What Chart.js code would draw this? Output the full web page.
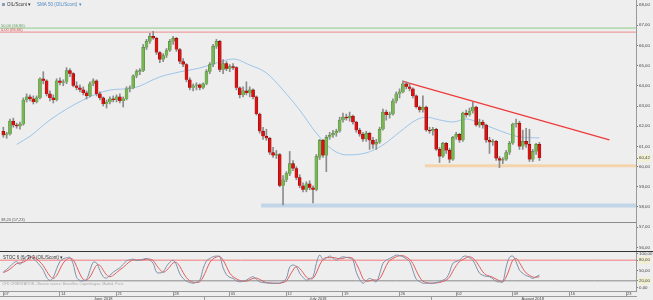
<!DOCTYPE html>
<html>
<head>
<meta charset="utf-8">
<script src="https://cdn.jsdelivr.net/npm/chart.js@4.4.1/dist/chart.umd.min.js"></script>
<style>
html, body { margin: 0; padding: 0; background: #eeeeee; width: 653px; height: 300px; overflow: hidden; }
#mainBox { position: absolute; left: 0; top: 0; }
#sep { position: absolute; left: 0; top: 251px; width: 653px; height: 1px; background: #333; }
#stochBox { position: absolute; left: 0; top: 252px; }
</style>
</head>
<body>
<div id="mainBox"><canvas id="mainChart" width="653" height="251"></canvas></div>
<div id="sep"></div>
<div id="stochBox"><canvas id="stochChart" width="653" height="48"></canvas></div>
<script>
// candles (one per bar, left to right)
const opens = [
  61.75, 61.55, 61.62, 62.25, 62.05, 62.00, 62.10, 63.30, 63.45, 63.35,
  63.20, 63.40, 64.35, 64.25, 63.60, 63.40, 63.30, 64.25, 64.15, 64.20,
  64.75, 64.60, 64.00, 63.90, 63.80, 63.65, 63.50, 64.10, 64.25, 63.60,
  63.40, 63.10, 63.20, 63.35, 63.30, 63.45, 63.25, 63.35, 63.85, 63.90,
  64.50, 64.70, 64.75, 65.90, 66.20, 66.45, 66.35, 65.65, 65.30, 65.50,
  65.75, 66.20, 66.35, 65.80, 65.20, 65.05, 64.30, 63.90, 64.00, 64.05,
  63.90, 64.10, 64.70, 65.05, 65.95, 66.20, 64.80, 65.10, 64.85, 64.95,
  64.90, 63.90, 63.55, 63.75, 63.65, 63.80, 63.45, 62.60, 61.75, 61.50,
  61.40, 60.70, 60.55, 60.60, 59.05, 59.35, 59.65, 60.15, 59.90, 59.45,
  59.05, 58.85, 59.15, 58.95, 58.85, 60.45, 61.30, 60.55, 61.45, 61.55,
  61.65, 61.75, 62.30, 62.45, 62.40, 62.50, 62.20, 61.80, 61.60, 61.35,
  61.65, 61.30, 61.10, 61.20, 61.85, 62.70, 62.55, 62.60, 63.25, 63.60,
  63.70, 64.10, 63.95, 63.85, 63.50, 62.95, 62.80, 62.95, 61.80, 61.75,
  61.85, 60.85, 60.50, 61.15, 60.80, 60.35, 61.45, 61.60, 61.30, 62.65,
  62.55, 62.75, 62.95, 62.05, 62.20, 62.05, 61.30, 61.20, 61.25, 60.40,
  60.30, 60.35, 60.70, 61.15, 62.10, 62.15, 61.00, 61.25, 61.10, 60.35,
  60.75, 61.10
]
const highs = [
  61.95, 61.70, 62.35, 62.40, 62.15, 62.20, 63.40, 63.60, 63.55, 63.50,
  63.50, 64.40, 64.70, 64.30, 63.75, 63.55, 64.35, 64.40, 64.30, 64.90,
  64.85, 64.65, 64.20, 64.05, 63.95, 63.75, 64.20, 64.35, 64.30, 63.70,
  63.45, 63.30, 63.45, 63.50, 63.55, 63.60, 63.45, 63.95, 64.00, 64.55,
  64.80, 64.85, 66.05, 66.30, 66.60, 66.70, 66.40, 65.70, 65.60, 65.85,
  66.30, 66.45, 66.40, 65.85, 65.35, 65.10, 64.40, 64.10, 64.15, 64.10,
  64.15, 64.80, 65.15, 66.05, 66.30, 66.25, 65.30, 65.20, 65.05, 65.10,
  64.95, 63.95, 63.95, 64.20, 63.95, 63.85, 63.50, 62.65, 61.95, 61.85,
  61.45, 60.95, 60.80, 60.65, 59.55, 59.75, 60.75, 60.30, 60.00, 59.60,
  59.20, 59.25, 59.30, 59.05, 60.60, 61.35, 61.35, 61.55, 61.70, 61.80,
  61.85, 62.45, 62.65, 62.60, 62.70, 62.55, 62.25, 61.90, 61.70, 61.75,
  61.70, 61.45, 61.35, 61.95, 62.85, 62.80, 62.70, 63.35, 63.70, 63.85,
  64.25, 64.20, 64.10, 63.90, 63.55, 63.00, 63.50, 63.00, 61.95, 61.95,
  61.90, 60.95, 61.20, 61.20, 60.90, 61.50, 61.70, 61.65, 62.70, 62.80,
  62.90, 63.20, 63.00, 62.35, 62.30, 62.10, 61.45, 61.35, 61.30, 60.50,
  60.45, 60.80, 61.25, 62.15, 62.35, 62.25, 61.80, 61.90, 61.85, 60.85,
  61.15, 61.20
]
const lows = [
  61.45, 61.40, 61.55, 61.95, 61.90, 61.85, 62.05, 63.20, 63.25, 63.10,
  63.15, 63.35, 64.10, 63.50, 63.25, 63.15, 63.25, 64.05, 64.00, 64.10,
  64.45, 63.95, 63.80, 63.70, 63.55, 63.35, 63.45, 64.00, 63.50, 63.30,
  63.00, 62.90, 63.10, 63.20, 63.20, 63.15, 62.95, 63.30, 63.70, 63.85,
  64.40, 64.55, 64.70, 65.80, 66.10, 66.30, 65.55, 65.15, 65.20, 65.40,
  65.70, 66.05, 65.70, 65.10, 64.95, 64.20, 63.80, 63.75, 63.80, 63.80,
  63.85, 64.05, 64.60, 64.95, 65.85, 64.70, 64.60, 64.75, 64.70, 64.80,
  63.80, 63.40, 63.45, 63.55, 63.45, 63.35, 62.55, 61.65, 61.35, 61.30,
  60.60, 60.45, 60.40, 59.00, 58.10, 59.25, 59.55, 59.80, 59.35, 58.95,
  58.75, 58.75, 58.85, 58.20, 58.80, 60.35, 60.45, 59.75, 61.35, 61.45,
  61.50, 61.70, 62.20, 62.30, 62.25, 62.10, 61.70, 61.50, 61.25, 61.25,
  60.85, 60.90, 60.85, 61.15, 61.80, 62.30, 62.40, 62.55, 63.15, 63.40,
  63.65, 63.85, 63.75, 63.40, 62.90, 62.70, 62.70, 61.75, 61.65, 61.55,
  60.80, 60.20, 60.45, 60.65, 60.20, 60.30, 61.35, 61.20, 61.25, 62.45,
  62.50, 62.65, 62.00, 61.95, 61.90, 61.20, 60.65, 61.05, 60.30, 59.95,
  60.15, 60.30, 60.60, 61.10, 61.95, 60.85, 60.85, 60.95, 60.25, 60.25,
  60.60, 60.30
]
const closes = [
  61.55, 61.62, 62.25, 62.05, 62.00, 62.10, 63.30, 63.45, 63.35, 63.20,
  63.40, 64.35, 64.25, 63.60, 63.40, 63.30, 64.25, 64.15, 64.20, 64.75,
  64.60, 64.00, 63.90, 63.80, 63.65, 63.50, 64.10, 64.25, 63.60, 63.40,
  63.10, 63.20, 63.35, 63.30, 63.45, 63.25, 63.35, 63.85, 63.90, 64.50,
  64.70, 64.75, 65.90, 66.20, 66.45, 66.35, 65.65, 65.30, 65.50, 65.75,
  66.20, 66.35, 65.80, 65.20, 65.05, 64.30, 63.90, 64.00, 64.05, 63.90,
  64.10, 64.70, 65.05, 65.95, 66.20, 64.80, 65.10, 64.85, 64.95, 64.90,
  63.90, 63.55, 63.75, 63.65, 63.80, 63.45, 62.60, 61.75, 61.50, 61.40,
  60.70, 60.55, 60.60, 59.05, 59.35, 59.65, 60.15, 59.90, 59.45, 59.05,
  58.85, 59.15, 58.95, 58.85, 60.50, 61.30, 60.55, 61.45, 61.55, 61.65,
  61.75, 62.30, 62.45, 62.40, 62.50, 62.20, 61.80, 61.60, 61.35, 61.65,
  61.30, 61.10, 61.20, 61.85, 62.70, 62.55, 62.60, 63.25, 63.60, 63.70,
  64.10, 63.95, 63.85, 63.50, 62.95, 62.80, 62.95, 61.80, 61.75, 61.85,
  60.85, 60.50, 61.15, 60.80, 60.35, 61.45, 61.60, 61.30, 62.65, 62.55,
  62.75, 62.95, 62.05, 62.20, 62.05, 61.30, 61.20, 61.25, 60.40, 60.30,
  60.35, 60.70, 61.15, 62.10, 62.15, 61.00, 61.25, 61.10, 60.35, 60.75,
  61.10, 60.42
]

// SMA 50 read at a few bars, the library draws the curve through them
const smaBars = [4, 8, 14, 24, 32, 39, 47, 53, 59, 64, 69, 74, 79, 84, 89, 94, 99, 103, 109, 114, 119, 124, 127, 131, 135, 139, 143, 147, 151, 155, 161]
const smaValues = [61.10, 61.50, 62.31, 63.30, 63.79, 63.89, 64.44, 64.69, 64.88, 65.13, 65.33, 65.03, 64.64, 63.79, 62.80, 61.66, 60.82, 60.58, 60.68, 61.07, 61.71, 62.31, 62.45, 62.31, 62.21, 62.36, 62.16, 61.91, 61.66, 61.47, 61.42]

// stochastic %K and %D
const stochK = [
  46, 53, 62, 71, 76, 68, 80, 92, 92, 84,
  76, 64, 51, 30, 21, 30, 55, 76, 84, 87,
  88, 68, 30, 21, 20, 24, 50, 74, 72, 50,
  32, 28, 36, 45, 52, 58, 68, 78, 81, 83,
  79, 80, 83, 85, 80, 71, 45, 43, 46, 62,
  74, 80, 66, 40, 27, 19, 15, 13, 16, 22,
  55, 78, 85, 90, 92, 90, 58, 38, 30, 27,
  20, 17, 19, 22, 28, 32, 24, 17, 15, 14,
  13, 13, 13, 13, 18, 27, 60, 66, 61, 42,
  30, 22, 26, 32, 70, 95, 82, 86, 92, 86,
  80, 86, 90, 88, 86, 80, 45, 24, 13, 20,
  27, 22, 17, 40, 71, 80, 85, 90, 95, 93,
  90, 84, 76, 50, 25, 18, 13, 13, 13, 13,
  15, 17, 22, 27, 45, 71, 76, 80, 90, 92,
  87, 80, 61, 42, 36, 33, 32, 26, 18, 17,
  17, 60, 88, 92, 75, 51, 42, 35, 32, 27,
  32, 37
]
const stochD = [
  44, 48, 54, 62, 70, 72, 74, 80, 88, 89,
  84, 75, 64, 48, 34, 27, 35, 54, 72, 82,
  86, 81, 62, 40, 24, 22, 31, 49, 65, 65,
  51, 37, 32, 36, 44, 52, 59, 68, 76, 81,
  81, 81, 81, 83, 83, 79, 65, 53, 45, 50,
  61, 72, 73, 62, 44, 29, 20, 16, 15, 17,
  31, 52, 73, 84, 89, 91, 80, 62, 42, 32,
  26, 21, 19, 19, 23, 27, 28, 24, 19, 15,
  14, 13, 13, 13, 15, 19, 35, 51, 62, 56,
  44, 31, 26, 27, 43, 66, 82, 88, 87, 88,
  86, 84, 85, 88, 88, 85, 70, 50, 27, 19,
  20, 23, 22, 26, 43, 64, 79, 85, 90, 93,
  93, 89, 83, 70, 50, 31, 19, 15, 13, 13,
  14, 15, 18, 22, 31, 48, 64, 76, 82, 87,
  90, 86, 76, 61, 46, 37, 34, 30, 25, 20,
  17, 31, 55, 80, 85, 73, 56, 43, 36, 31,
  30, 32
]

// drawn levels
const levelValues = [66.86, 66.66, 57.23]
const levelLabels = ['50,00 (66,86)', '0,00 (66,66)', '38,20 (57,23)']
const supportLevel = 60.04
const supportFrom = 126.6
const bandLevel = 58.07
const bandFrom = 77.4
const trendBars = [120, 182]
const trendValues = [64.22, 61.32]
const lastPrice = 60.42
const stochLevels = [80, 20]

// axes
const priceTicks = [56, 57, 58, 59, 60, 61, 62, 63, 64, 65, 66, 67, 68]
const stochTicks = [0, 20, 50, 80, 100]
const tickLabels = ['07', '14', '21', '28', '05', '12', '19', '26', '02', '09', '16', '23']
const tickStep = 17
const monthNames = ['June 2018', 'July 2018', 'August 2018']
const monthCenters = [30, 94.5, 159]
const monthBounds = [60.5, 128.5]

const FONT = '"Liberation Sans", Arial, sans-serif'
const fmt = v => v.toFixed(2).replace('.', ',')
const up = i => closes[i] >= opens[i]
const xMin = -1, xMax = 190

const bodies = closes.map((c, i) => ({x: i, y: [opens[i], c]}))
const wicks = closes.map((c, i) => ({x: i, y: [lows[i], highs[i]]}))
const sma = smaBars.map((b, k) => ({x: b, y: smaValues[k]}))
const flat = (v, from) => [{x: from, y: v}, {x: xMax, y: v}]

function lineSet(data, color, width, order) {
    return {type: 'line', data: data, borderColor: color, borderWidth: width, pointRadius: 0, order: order}
}

const mainText = {
    id: 'mainText',
    afterDraw(chart) {
        const ctx = chart.ctx
        const y = chart.scales.y
        ctx.save()
        ctx.font = '4.5px ' + FONT
        ctx.textBaseline = 'middle'
        ctx.fillStyle = '#8aa0b8'
        ctx.fillRect(2, 3, 3, 3)
        ctx.fillStyle = '#333'
        ctx.fillText('OIL/Scont \u25BE', 7, 5)
        ctx.fillStyle = '#4f87c4'
        ctx.fillText('SMA 50 (OIL/Scont) \u25BE', 37, 5)
        const colors = ['#5e9e5e', '#e05050', '#555']
        ctx.font = '4px ' + FONT
        ctx.textBaseline = 'bottom'
        levelLabels.forEach((t, k) => {
            ctx.fillStyle = colors[k]
            ctx.fillText(t, 1, y.getPixelForValue(levelValues[k]) - 0.5)
        })
        ctx.restore()
    }
}

const mainChart = new Chart(document.getElementById('mainChart'), {
    type: 'bar',
    data: {
        datasets: [
            {type: 'bar', data: bodies, barThickness: 3, minBarLength: 1, grouped: false, order: 0,
             backgroundColor: ctx => up(ctx.dataIndex) ? '#78b655' : '#dc1212',
             borderColor: ctx => up(ctx.dataIndex) ? '#4d7f36' : '#7a0a0a', borderWidth: 0.5},
            {type: 'bar', data: wicks, barThickness: 1, grouped: false, order: 1, backgroundColor: '#8c8c8c'},
            lineSet(sma, '#9cc4e8', 1, 2),
            lineSet(trendBars.map((b, k) => ({x: b, y: trendValues[k]})), '#ee3a3a', 1.2, 2),
            lineSet(flat(supportLevel, supportFrom), '#f4d4ac', 3, 3),
            lineSet(flat(bandLevel, bandFrom), '#c2d6e8', 4, 3),
            lineSet(flat(levelValues[0], xMin), '#8ccb8c', 1, 3),
            lineSet(flat(levelValues[1], xMin), '#f08a8a', 1, 3),
            lineSet(flat(levelValues[2], xMin), '#8a8a8a', 1, 3)
        ]
    },
    options: {
        responsive: false,
        animation: false,
        events: [],
        layout: {padding: 0},
        elements: {line: {tension: 0.4, cubicInterpolationMode: 'monotone'}},
        plugins: {legend: {display: false}, tooltip: {enabled: false}},
        scales: {
            x: {type: 'linear', min: xMin, max: xMax, display: false, offset: false},
            y: {
                position: 'right', min: 55.82, max: 68.25,
                afterBuildTicks: s => { s.ticks = [...priceTicks, lastPrice].sort((a, b) => a - b).map(v => ({value: v})) },
                afterFit: s => { s.width = 17; s.paddingTop = 0; s.paddingBottom = 0 },
                grid: {drawOnChartArea: false, tickLength: 2, color: '#777'},
                border: {color: '#999'},
                ticks: {
                    autoSkip: false, padding: 1, color: '#444', font: {size: 4.4, family: FONT},
                    callback: v => fmt(v),
                    showLabelBackdrop: true,
                    backdropColor: ctx => ctx.tick && ctx.tick.value === lastPrice ? '#f2efd2' : 'rgba(0,0,0,0)',
                    backdropPadding: 1
                }
            }
        }
    },
    plugins: [mainText]
})

const stochText = {
    id: 'stochText',
    afterDraw(chart) {
        const ctx = chart.ctx
        ctx.save()
        ctx.textBaseline = 'middle'
        ctx.font = '4.5px ' + FONT
        ctx.fillStyle = '#333'
        ctx.fillText('STOC 6 (6; 3) 3 (OIL/Scont) \u25BE', 3, 6)
        ctx.font = '3.6px ' + FONT
        ctx.fillStyle = '#a8a8a8'
        ctx.fillText('CFD ORIENTATION - Bourse source: Bruxelles, Copenhague, Madrid, Paris', 2, 32)
        ctx.restore()
    }
}

const stochChart = new Chart(document.getElementById('stochChart'), {
    type: 'line',
    data: {
        datasets: [
            lineSet(flat(stochLevels[0], xMin), '#f07a7a', 1, 3),
            lineSet(flat(stochLevels[1], xMin), '#8a8a8a', 1, 3),
            lineSet(stochD.map((v, i) => ({x: i, y: v})), '#e35b5b', 1, 1),
            lineSet(stochK.map((v, i) => ({x: i, y: v})), '#7e90ab', 1, 0)
        ]
    },
    options: {
        responsive: false,
        animation: false,
        events: [],
        layout: {padding: 0},
        elements: {line: {tension: 0.35}},
        plugins: {legend: {display: false}, tooltip: {enabled: false}},
        scales: {
            x: {
                type: 'linear', position: 'bottom', min: xMin, max: xMax, offset: false, weight: 0,
                afterBuildTicks: s => { s.ticks = tickLabels.map((l, k) => ({value: k * tickStep})) },
                afterFit: s => { s.height = 5; s.paddingLeft = 0; s.paddingRight = 0 },
                grid: {drawOnChartArea: false, tickLength: 5, color: '#9a9a9a'},
                border: {color: '#9a9a9a'},
                ticks: {autoSkip: false, maxRotation: 0, align: 'start', labelOffset: 1, padding: -5,
                        color: '#444', font: {size: 4, family: FONT},
                        callback: v => tickLabels[Math.round(v / tickStep)]}
            },
            x2: {
                type: 'linear', axis: 'x', position: 'bottom', min: xMin, max: xMax, offset: false, weight: 1,
                afterBuildTicks: s => { s.ticks = [...monthCenters, ...monthBounds].sort((a, b) => a - b).map(v => ({value: v})) },
                afterFit: s => { s.height = 4; s.paddingLeft = 0; s.paddingRight = 0 },
                grid: {drawOnChartArea: false, tickLength: 4,
                       color: ctx => ctx.tick && monthBounds.includes(ctx.tick.value) ? '#9a9a9a' : 'rgba(0,0,0,0)'},
                border: {color: '#9a9a9a'},
                ticks: {autoSkip: false, maxRotation: 0, padding: -4, color: '#444', font: {size: 4, family: FONT},
                        callback: v => { const k = monthCenters.indexOf(v); return k >= 0 ? monthNames[k] : '' }}
            },
            y: {
                position: 'right', min: -9.6, max: 103.8,
                afterBuildTicks: s => { s.ticks = stochTicks.map(v => ({value: v})) },
                afterFit: s => { s.width = 17; s.paddingTop = 0; s.paddingBottom = 0 },
                grid: {drawOnChartArea: false, tickLength: 2, color: '#777'},
                border: {color: '#999'},
                ticks: {
                    autoSkip: false, padding: 1, color: '#444', font: {size: 4.4, family: FONT},
                    callback: v => fmt(v),
                    showLabelBackdrop: true,
                    backdropColor: ctx => ctx.tick && stochLevels.includes(ctx.tick.value) ? '#f2efd2' : 'rgba(0,0,0,0)',
                    backdropPadding: 1
                }
            }
        }
    },
    plugins: [stochText]
})
</script>
</body>
</html>
